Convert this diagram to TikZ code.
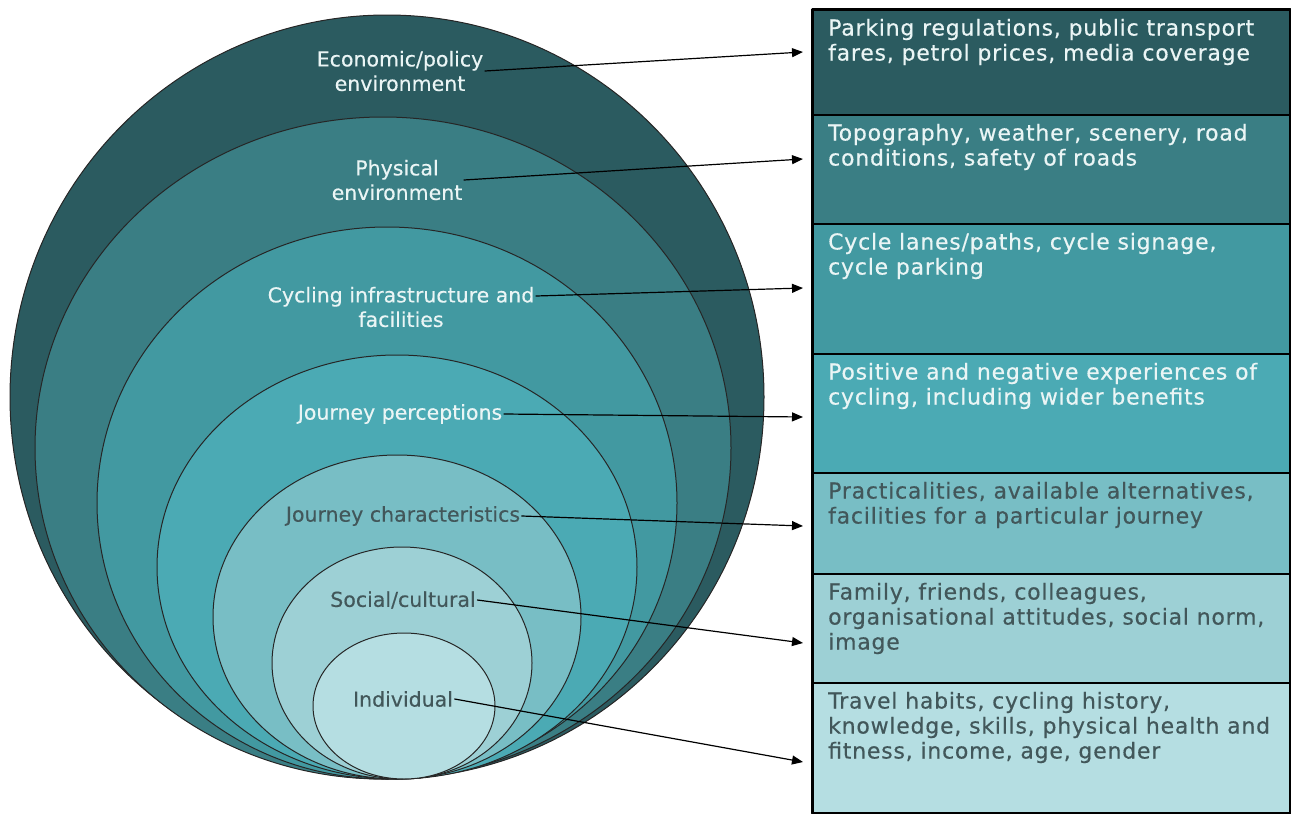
\documentclass[tikz,border=0pt]{standalone}
\usepackage{fontspec}
\setmainfont{DejaVu Sans}
\newfontfamily\boxfont[LetterSpace=3.5,FakeBold=0.4]{DejaVu Sans}
\newfontfamily\ringfont[FakeBold=0.3]{DejaVu Sans}
\usepackage{tikz}
\usetikzlibrary{arrows.meta}
\definecolor{ringA}{HTML}{2B5B60}
\definecolor{ringB}{HTML}{3A7E84}
\definecolor{ringC}{HTML}{4299A1}
\definecolor{ringD}{HTML}{4BAAB4}
\definecolor{ringE}{HTML}{78BEC5}
\definecolor{ringF}{HTML}{9DD0D5}
\definecolor{ringG}{HTML}{B5DEE2}
\definecolor{lighttext}{HTML}{EAF5F5}
\definecolor{darktext}{HTML}{42575A}

\begin{document}
\begin{tikzpicture}[line cap=round,line join=round,>={Triangle[length=11pt,width=9pt]},x=1pt,y=-1pt,
  ring/.style={draw=black!85,line width=1pt},
  lbl/.style={font=\ringfont\fontsize{20.5}{24.5}\selectfont,align=center,inner sep=1.5pt},
  factbox/.style={draw=black,line width=1.6pt,anchor=north west,minimum width=477pt,inner sep=0pt},
  facttext/.style={font=\boxfont\fontsize{22}{25}\selectfont,anchor=north west,align=left,inner sep=0pt},
  link/.style={->,line width=1.2pt}]
\useasboundingbox (0,0) rectangle (1291,814);
\draw[ring,fill=ringA] (387,397) ellipse (377pt and 382pt);
\draw[ring,fill=ringB] (383,448) ellipse (348pt and 331pt);
\draw[ring,fill=ringC] (387,503) ellipse (290pt and 276pt);
\draw[ring,fill=ringD] (397,567) ellipse (240pt and 212pt);
\draw[ring,fill=ringE] (397,617) ellipse (184pt and 162pt);
\draw[ring,fill=ringF] (402,663) ellipse (130pt and 116pt);
\draw[ring,fill=ringG] (404,706) ellipse (91pt and 73pt);
\node[lbl,text=lighttext] (econ) at (400,71) {Economic/policy\\environment};
\node[lbl,text=lighttext] (phys) at (397,180) {Physical\\environment};
\node[lbl,text=lighttext] (infra) at (401,307) {Cycling infrastructure and\\facilities};
\node[lbl,text=lighttext] (perc) at (400,414) {Journey perceptions};
\node[lbl,text=darktext] (chars) at (403,516) {Journey characteristics};
\node[lbl,text=darktext] (social) at (403,600) {Social/cultural};
\node[lbl,text=darktext] (indiv) at (403,699) {Individual};
\node[factbox,fill=ringA,minimum height=105pt] (f1) at (812,9) {};
\node[factbox,fill=ringB,minimum height=109pt] (f2) at (812,114) {};
\node[factbox,fill=ringC,minimum height=130pt] (f3) at (812,223) {};
\node[factbox,fill=ringD,minimum height=119pt] (f4) at (812,353) {};
\node[factbox,fill=ringE,minimum height=101pt] (f5) at (812,472) {};
\node[factbox,fill=ringF,minimum height=109pt] (f6) at (812,573) {};
\node[factbox,fill=ringG,minimum height=130pt] (f7) at (812,682) {};
\draw[line width=3pt] (f1.north west) rectangle (f7.south east);
\node[facttext,text=lighttext] (t1) at (828,18.6) {Parking regulations, public transport\\fares, petrol prices, media coverage};
\node[facttext,text=lighttext] (t2) at (828,123.6) {Topography, weather, scenery, road\\conditions, safety of roads};
\node[facttext,text=lighttext] (t3) at (828,232.6) {Cycle lanes/paths, cycle signage,\\cycle parking};
\node[facttext,text=lighttext] (t4) at (828,362.6) {Positive and negative experiences of\\cycling, including wider benefits};
\node[facttext,text=darktext] (t5) at (828,481.6) {Practicalities, available alternatives,\\facilities for a particular journey};
\node[facttext,text=darktext] (t6) at (828,582.6) {Family, friends, colleagues,\\organisational attitudes, social norm,\\image};
\node[facttext,text=darktext] (t7) at (828,691.6) {Travel habits, cycling history,\\knowledge, skills, physical health and\\fitness, income, age, gender};
\coordinate (e1) at (803,52);
\coordinate (e2) at (803,159);
\coordinate (e3) at (803,288);
\coordinate (e4) at (803,417);
\coordinate (e5) at (803,526);
\coordinate (e6) at (803,643);
\coordinate (e7) at (803,762);
\draw[link] (econ.east) -- (e1);
\draw[link] (phys.east) -- (e2);
\draw[link] ([yshift=11pt]infra.east) -- (e3);
\draw[link] (perc.east) -- (e4);
\draw[link] (chars.east) -- (e5);
\draw[link] (social.east) -- (e6);
\draw[link] (indiv.east) -- (e7);
\end{tikzpicture}
\end{document}
